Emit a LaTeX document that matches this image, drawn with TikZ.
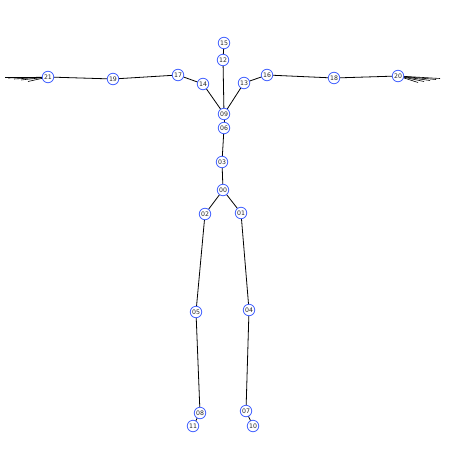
\documentclass[tikz,border=0pt]{standalone}
\usepackage{fontspec}
\setmainfont{DejaVu Sans}
\definecolor{jblue}{RGB}{70,100,255}
\begin{document}
\begin{tikzpicture}[x=1pt,y=-1pt,
  joint/.style={circle,draw=jblue,fill=white,line width=0.8pt,minimum size=11.5pt,inner sep=0pt,font=\fontsize{6.2}{7}\selectfont,text=black!85},
  bone/.style={draw=black,line width=0.8pt}]
\useasboundingbox (0,0) rectangle (450,460);
% coordinates of joints
\path (224,43) coordinate (p15)
      (223,60) coordinate (p12)
      (178,75) coordinate (p17)
      (203,84) coordinate (p14)
      (244,83) coordinate (p13)
      (267,75) coordinate (p16)
      (224,114) coordinate (p09)
      (224,128) coordinate (p06)
      (222,162) coordinate (p03)
      (223,190) coordinate (p00)
      (205,214) coordinate (p02)
      (241,213) coordinate (p01)
      (196,312) coordinate (p05)
      (249,310) coordinate (p04)
      (200,413) coordinate (p08)
      (193,426) coordinate (p11)
      (246,411) coordinate (p07)
      (253,426) coordinate (p10)
      (48,77) coordinate (p21)
      (113,79) coordinate (p19)
      (334,78) coordinate (p18)
      (398,76) coordinate (p20);
% finger tips
\coordinate (lh1) at (5,77);
\coordinate (lh2) at (8,78);
\coordinate (lh3) at (14,79);
\coordinate (lh4) at (21,80);
\coordinate (lh5) at (28,81.5);
\coordinate (rh1) at (440,78.5);
\coordinate (rh2) at (436,79.5);
\coordinate (rh3) at (430,80.5);
\coordinate (rh4) at (424,81.5);
\coordinate (rh5) at (418,82.5);
% bones
\foreach \a/\b in {15/12,12/09,14/17,14/09,13/16,13/09,17/19,19/21,16/18,18/20,09/06,06/03,03/00,00/02,00/01,02/05,05/08,08/11,01/04,04/07,07/10}
  \draw[bone] (p\a) -- (p\b);
\foreach \h in {lh1,lh2,lh3,lh4,lh5} \draw[bone,line width=0.6pt] (p21) -- (\h);
\foreach \h in {rh1,rh2,rh3,rh4,rh5} \draw[bone,line width=0.6pt] (p20) -- (\h);
% joints
\foreach \j in {15,12,17,14,13,16,09,06,03,00,02,01,05,04,08,11,07,10,21,19,18,20}
  \node[joint] (n\j) at (p\j) {\j};
\end{tikzpicture}
\end{document}
